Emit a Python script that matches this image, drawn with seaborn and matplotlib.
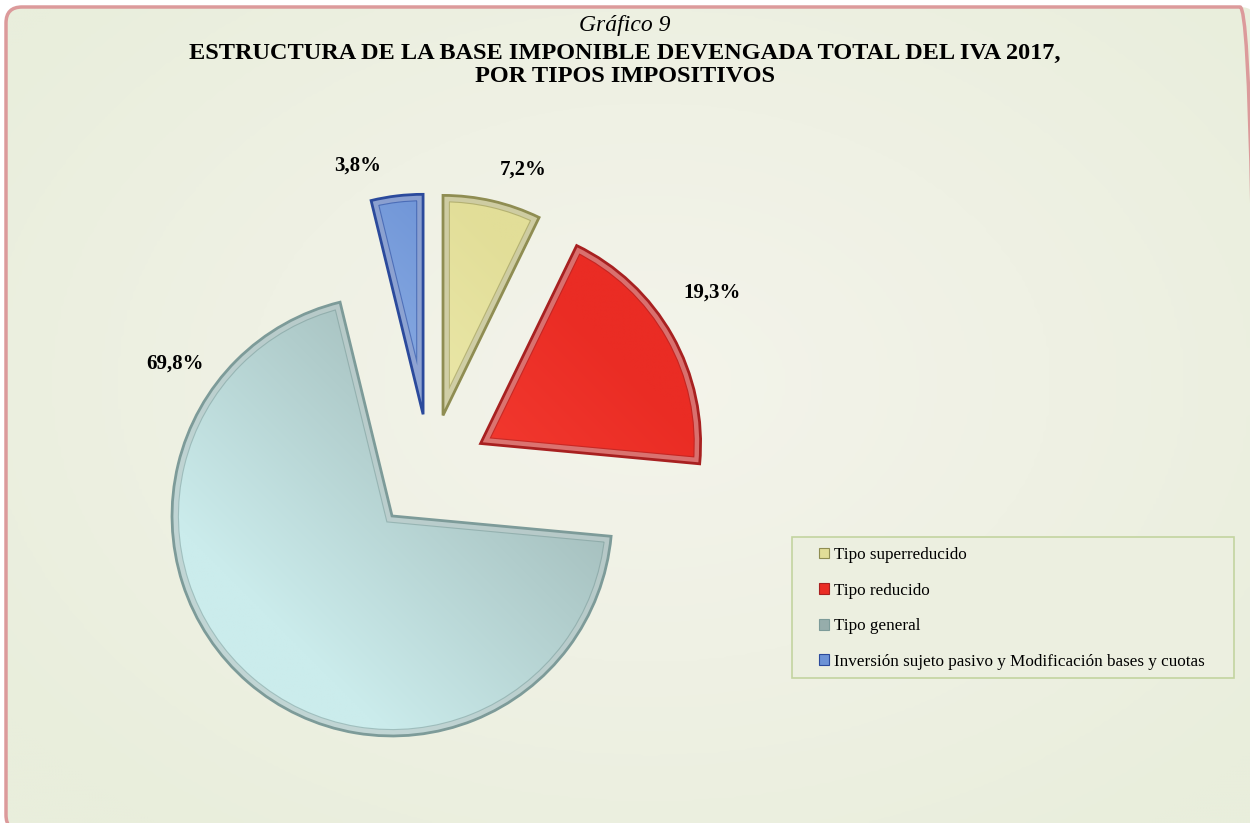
import numpy as np
import matplotlib
matplotlib.use("Agg")
import matplotlib.pyplot as plt
from matplotlib.patches import FancyBboxPatch, Rectangle, Patch, Wedge
from matplotlib.colors import LinearSegmentedColormap
import seaborn as sns

# data
categories = ["Tipo superreducido", "Tipo reducido", "Tipo general",
              "Inversión sujeto pasivo y Modificación bases y cuotas"]
shares = [7.2, 19.3, 69.8, 3.8]
pct_labels = [f"{v:.1f}%".replace(".", ",") for v in shares]

# colours per slice: light end, dark end of the gradient, outline
light = ["#F8F6C2", "#FF4D40", "#CBECEC", "#AECCF2"]
dark = ["#E2DE98", "#EA2C24", "#96ADAB", "#6C92D6"]
edges = ["#8F8D52", "#A82020", "#7D9B99", "#2B4A9C"]

# where the percentage labels sit (pie units, centre = 0,0)
label_xy = [(0.423, 1.373), (1.282, 0.814), (-1.159, 0.495), (-0.327, 1.395)]

sns.set_theme(style="white")
plt.rcParams["font.family"] = ["Liberation Serif", "DejaVu Serif"]
plt.rcParams["text.color"] = "black"

W, H = 1250, 823
fig = plt.figure(figsize=(12.5, 8.23), dpi=100)
fig.patch.set_facecolor("white")

# --- rounded background panel with soft radial shading (pixel coords, y up) ---
bg = fig.add_axes([0, 0, 1, 1])
panel = FancyBboxPatch((6, -8), 1250, 824, boxstyle="round,pad=0,rounding_size=16",
                       facecolor="none", edgecolor="#DC9A9B", lw=2.5, zorder=3)
bg.add_patch(panel)
yy, xx = np.mgrid[0:H:3, 0:W:3]
rad = np.sqrt(((xx - 650) / 800.0) ** 2 + ((yy - 440) / 560.0) ** 2)
bg_cmap = LinearSegmentedColormap.from_list("bg", ["#F4F4EB", "#EFF1E4", "#E9EEDC"])
img = bg.imshow(np.clip(rad, 0, 1), cmap=bg_cmap, vmin=0, vmax=1,
                extent=(0, W, 0, H), origin="lower", interpolation="bilinear", zorder=1)
img.set_clip_path(panel)

# legend box
bg.add_patch(Rectangle((792, H - 678), 442, 141, facecolor="#ECEFE0",
                       edgecolor="#C3D4A0", lw=1.2, zorder=2))
bg.set_xlim(0, W)
bg.set_ylim(0, H)
bg.set_aspect("auto")
bg.axis("off")

# --- pie ---
ax = fig.add_axes([0, 0, 1, 1])
ax.patch.set_alpha(0)
wedges, texts = ax.pie(shares, labels=pct_labels, explode=[0.264] * 4,
                       startangle=90, counterclock=False,
                       textprops=dict(fontsize=15, fontweight="bold", color="black"))

gx, gy = np.meshgrid(np.linspace(-1.4, 1.4, 300), np.linspace(-1.4, 1.4, 300))
grad = (gx + gy + 2.8) / 5.6
for w, lo, hi, ec in zip(wedges, light, dark, edges):
    w.set_facecolor("none")
    w.set_edgecolor(ec)
    w.set_linewidth(2.0)
    w.set_zorder(5)
    cmap = LinearSegmentedColormap.from_list("", [lo, hi])
    im = ax.imshow(grad, cmap=cmap, vmin=0.25, vmax=0.75, extent=(-1.4, 1.4, -1.4, 1.4),
                   origin="lower", interpolation="bilinear", zorder=2)
    im.set_clip_path(w)
    # bevel: dark inner line then light band, both clipped inside the slice
    for lw, col, a in [(10, ec, 0.55), (8.4, "white", 0.35)]:
        band = Wedge(w.center, w.r, w.theta1, w.theta2, facecolor="none",
                     edgecolor=col, lw=lw, alpha=a, zorder=3)
        ax.add_patch(band)
        band.set_clip_path(w)

for t, (x, y) in zip(texts, label_xy):
    t.set_position((x, y))
    t.set_ha("center")
    t.set_va("center")

R, cx, cy = 220.0, 430.0, 472.0
ax.set_xlim(-cx / R, (W - cx) / R)
ax.set_ylim((cy - H) / R, cy / R)
ax.set_aspect("auto")
ax.axis("off")

# --- titles ---
fig.text(0.5, 1 - 25 / H, "Gráfico 9", ha="center", va="center",
         fontsize=17, fontstyle="italic", color="black")
fig.text(0.5, 1 - 53 / H, "ESTRUCTURA DE LA BASE IMPONIBLE DEVENGADA TOTAL DEL IVA 2017,",
         ha="center", va="center", fontsize=17.5, fontweight="bold", color="black")
fig.text(0.5, 1 - 77 / H, "POR TIPOS IMPOSITIVOS", ha="center", va="center",
         fontsize=17.5, fontweight="bold", color="black")

# --- legend ---
handles = [Patch(facecolor=c, edgecolor=e, lw=0.8) for c, e in zip(dark, edges)]
leg = fig.legend(handles, categories, loc="upper left",
                 bbox_to_anchor=(819 / W, 1 - 547 / H), frameon=False,
                 fontsize=12.3, handlelength=0.6, handleheight=0.6, handletextpad=0.25,
                 labelspacing=1.15, borderpad=0, borderaxespad=0)
for t in leg.get_texts():
    t.set_color("black")

fig.savefig("out.png", dpi=100)
